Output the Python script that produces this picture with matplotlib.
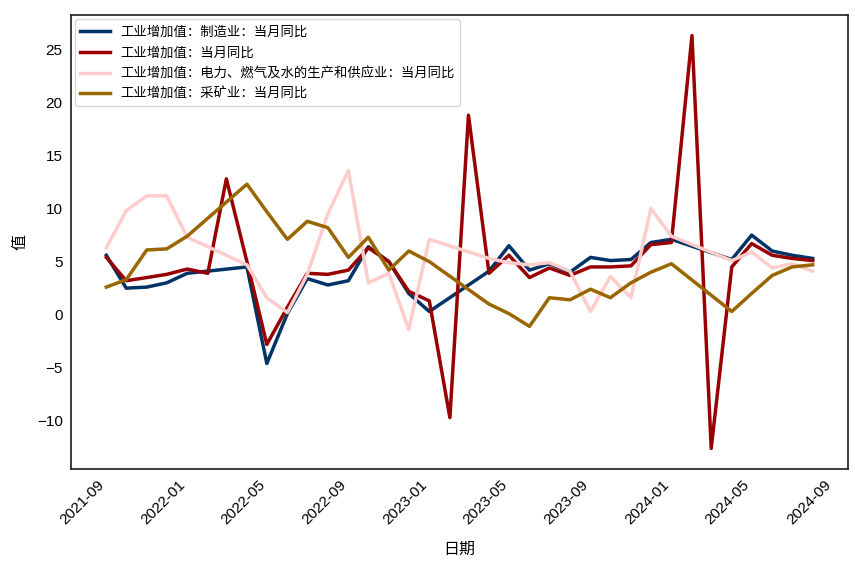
import numpy as np
import pandas as pd
import matplotlib
matplotlib.use("Agg")
import matplotlib.pyplot as plt
import matplotlib.dates as mdates

# month-end dates, 2021-08 .. 2024-07
dates = pd.date_range("2021-08-31", "2024-07-31", freq="ME")

nan = np.nan
manufacturing = [5.6, 2.5, 2.6, 3.0, 3.9, nan, nan, 4.5, -4.6, 0.1, 3.4, 2.8,
                 3.2, 6.4, 5.0, 2.0, 0.3, nan, nan, 4.1, 6.5, 4.2, 4.8, 4.0,
                 5.4, 5.1, 5.2, 6.8, 7.1, nan, nan, 5.2, 7.5, 6.0, 5.6, 5.3]
total = [5.4, 3.2, 3.5, 3.8, 4.3, 3.9, 12.8, 5.0, -2.8, 0.7, 3.9, 3.8,
         4.2, 6.3, 5.0, 2.2, 1.3, -9.7, 18.8, 3.9, 5.6, 3.5, 4.4, 3.7,
         4.5, 4.5, 4.6, 6.6, 6.8, 26.3, -12.6, 4.5, 6.7, 5.6, 5.3, 5.1]
utilities = [6.3, 9.8, 11.2, 11.2, 7.3, nan, nan, 4.7, 1.6, 0.2, 3.8, 9.5,
             13.6, 3.0, 3.9, -1.4, 7.1, nan, nan, 5.3, 4.9, 4.7, 4.9, 4.1,
             0.3, 3.6, 1.6, 10.0, 7.4, nan, nan, 5.1, 5.9, 4.4, 4.8, 4.1]
mining = [2.6, 3.3, 6.1, 6.2, 7.4, nan, nan, 12.3, 9.7, 7.1, 8.8, 8.2,
          5.4, 7.3, 4.2, 6.0, 5.0, nan, nan, 1.0, 0.1, -1.1, 1.6, 1.4,
          2.4, 1.6, 3.0, 4.0, 4.8, nan, nan, 0.3, 2.0, 3.7, 4.5, 4.7]

series = [
    ("工业增加值：制造业：当月同比", manufacturing, "#003366"),
    ("工业增加值：当月同比", total, "#990000"),
    ("工业增加值：电力、燃气及水的生产和供应业：当月同比", utilities, "#ffcccc"),
    ("工业增加值：采矿业：当月同比", mining, "#996600"),
]

plt.rcParams["font.family"] = ["Liberation Sans", "Noto Sans CJK SC", "DejaVu Sans"]
cjk = ["Noto Sans CJK SC", "DejaVu Sans"]

fig = plt.figure(figsize=(8.55, 5.66), dpi=100)
ax = fig.add_axes([71 / 855, 1 - 469 / 566, 777 / 855, 454 / 566])

for name, vals, color in series:
    s = pd.Series(vals, index=dates).dropna()
    ax.plot(s.index, s.values, color=color, lw=2.5, label=name)

ax.xaxis.set_major_locator(mdates.MonthLocator(bymonth=[1, 5, 9]))
ax.xaxis.set_major_formatter(mdates.DateFormatter("%Y-%m"))
plt.setp(ax.get_xticklabels(), rotation=45, ha="right")
ax.tick_params(labelsize=11, length=0, pad=6)

for sp in ax.spines.values():
    sp.set_color("#262626")
    sp.set_linewidth(1.25)

ax.set_xlabel("日期", family=cjk, fontsize=11.5, labelpad=10)
ax.set_ylabel("值", family=cjk, fontsize=11.5, labelpad=6)

leg = ax.legend(loc="upper left", prop={"family": cjk, "size": 9.6},
                edgecolor="0.8", handlelength=2.2, borderaxespad=0.3,
                labelspacing=0.52)

fig.savefig("out.png", dpi=100)
